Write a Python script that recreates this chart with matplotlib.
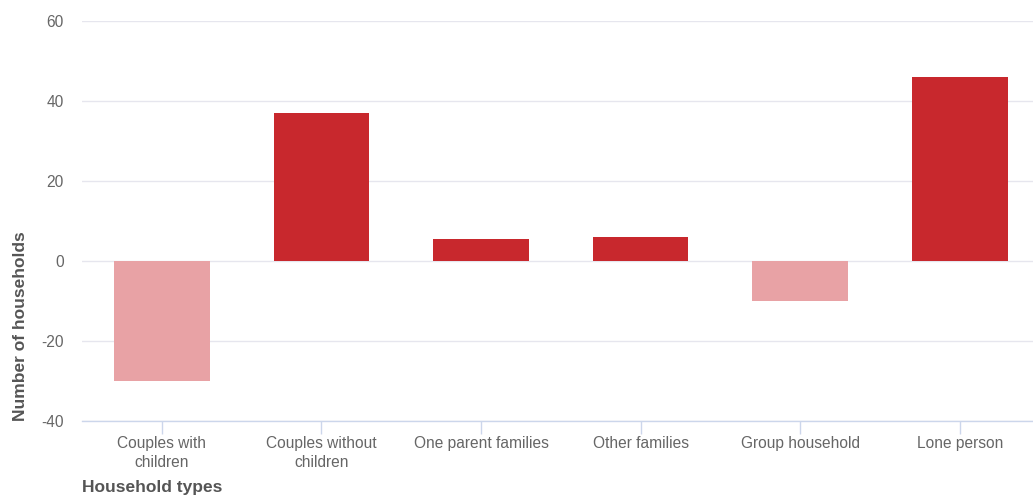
import numpy as np
import matplotlib.pyplot as plt
from matplotlib.ticker import FuncFormatter

categories = ['Couples with\nchildren', 'Couples without\nchildren', 'One parent families',
              'Other families', 'Group household', 'Lone person']
values = [-30, 37, 5.5, 6, -10, 46]

pos_color = '#C8282D'
neg_color = '#E8A2A5'

plt.rcParams['font.family'] = ['Liberation Sans', 'DejaVu Sans']

fig = plt.figure(figsize=(10.33, 4.97), dpi=100)
ax = fig.add_axes([0.0794, 0.1529, 0.927, 0.8048])

x = np.arange(len(categories))
colors = [pos_color if v >= 0 else neg_color for v in values]
ax.bar(x, values, width=0.6, color=colors, zorder=3)

ax.set_xlim(-0.5, 5.5)
ax.set_ylim(-40, 60)
ax.set_yticks(np.arange(-40, 61, 20))
ax.yaxis.set_major_formatter(FuncFormatter(lambda v, p: '%d' % v))
ax.set_xticks(x)
ax.set_xticklabels(categories, linespacing=1.35)

ax.grid(axis='y', color='#E6E6EE', linewidth=1, zorder=0)
for s in ['top', 'right', 'left']:
    ax.spines[s].set_visible(False)
ax.spines['bottom'].set_color('#CCD6EB')
ax.spines['bottom'].set_linewidth(1)

ax.tick_params(axis='x', colors='#CCD6EB', length=9, width=1, labelcolor='#666666',
               labelsize=11.2, pad=2)
ax.tick_params(axis='y', length=0, labelcolor='#666666', labelsize=11.2, pad=13)

fig.text(0.02, 1 - 326 / 497, 'Number of households', rotation=90, fontsize=12.5,
         fontweight='bold', color='#555555', ha='center', va='center')
fig.text(0.0794, 0.004, 'Household types', fontsize=12.5, fontweight='bold', color='#555555',
         ha='left', va='bottom')

fig.savefig('out.png', dpi=100)
